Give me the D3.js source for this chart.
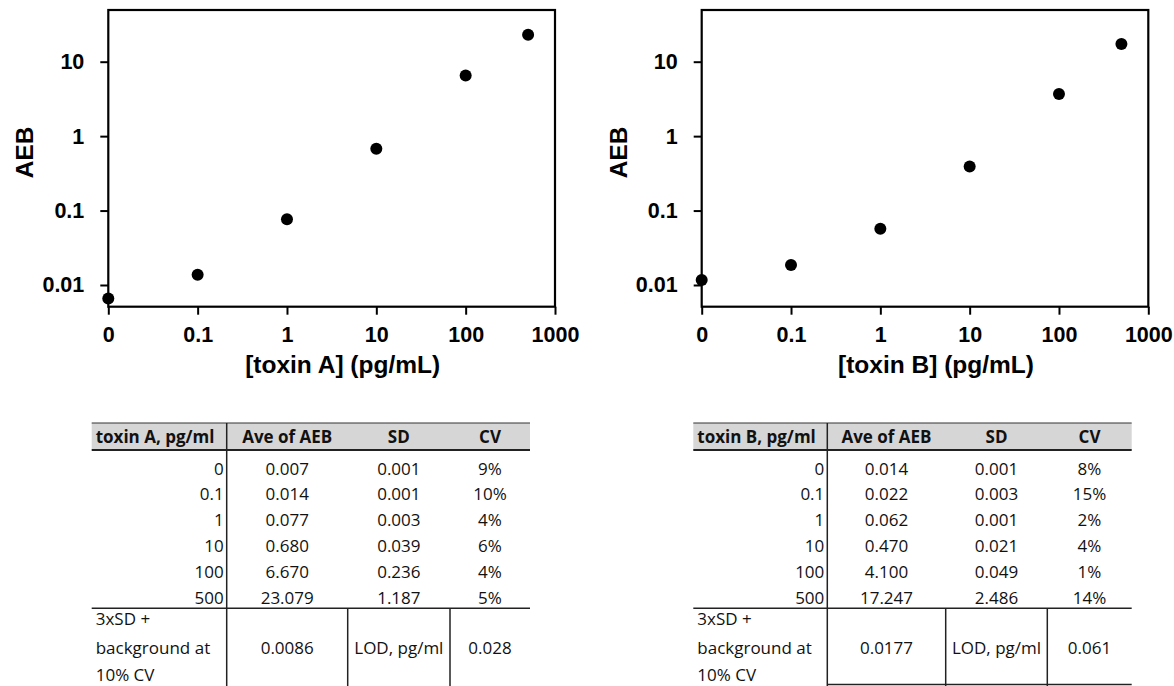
<!DOCTYPE html>
<html>
<head>
<meta charset="utf-8">
<script src="https://cdn.jsdelivr.net/npm/d3@7"></script>
<style>
  html, body { margin: 0; padding: 0; background: #fff; }
  svg { display: block; }
  .tick text { font-family: "Liberation Sans", Arial, sans-serif; font-weight: bold; font-size: 21.5px; fill: #000; }
  .axtitle { font-family: "Liberation Sans", Arial, sans-serif; font-weight: bold; font-size: 24.5px; fill: #000; }
  .tbl { font-family: "Open Sans", "Noto Sans", sans-serif; font-size: 17px; fill: #111; }
  .tblh { font-family: "Open Sans", "Noto Sans", sans-serif; font-size: 17px; font-weight: bold; fill: #111; }
</style>
</head>
<body>
<svg id="chart" width="1174" height="686"></svg>
<script>
// ---------- data ----------
const xTickValues = [0.01, 0.1, 1, 10, 100, 1000];
const xTickLabels = ["0", "0.1", "1", "10", "100", "1000"];
const yTickValues = [0.01, 0.1, 1, 10];
const yTickLabels = ["0.01", "0.1", "1", "10"];

// concentrations (0 is plotted at the "0" tick position, i.e. 0.01)
const concPlot = [0.01, 0.1, 1, 10, 100, 500];
const aebA = [0.0066, 0.0137, 0.0766, 0.676, 6.54, 23.04];
const aebB = [0.0117, 0.0186, 0.0571, 0.390, 3.68, 17.3];

const tableConc = ["0", "0.1", "1", "10", "100", "500"];
const aveA = ["0.007", "0.014", "0.077", "0.680", "6.670", "23.079"];
const sdA  = ["0.001", "0.001", "0.003", "0.039", "0.236", "1.187"];
const cvA  = ["9%", "10%", "4%", "6%", "4%", "5%"];
const aveB = ["0.014", "0.022", "0.062", "0.470", "4.100", "17.247"];
const sdB  = ["0.001", "0.003", "0.001", "0.021", "0.049", "2.486"];
const cvB  = ["8%", "15%", "2%", "4%", "1%", "14%"];
const headerA = ["toxin A, pg/ml", "Ave of AEB", "SD", "CV"];
const headerB = ["toxin B, pg/ml", "Ave of AEB", "SD", "CV"];
const footLabel = ["3xSD +", "background at", "10% CV"];
const footA = ["0.0086", "LOD, pg/ml", "0.028"];
const footB = ["0.0177", "LOD, pg/ml", "0.061"];

const svg = d3.select("#chart");

// ---------- scatter panels ----------
function panel(xLeft, xRight, values, xTitle) {
  const top = 10, bottom = 306.7;
  const x = d3.scaleLog().domain([0.01, 1000]).range([xLeft, xRight]);
  const y = d3.scaleLog().domain([0.00511, 49.5]).range([bottom, top]);
  const g = svg.append("g");

  const xa = g.append("g").attr("transform", `translate(0,${bottom})`)
    .call(d3.axisBottom(x).tickValues(xTickValues)
      .tickFormat((d, i) => xTickLabels[i]).tickSize(8).tickPadding(12));
  const ya = g.append("g").attr("transform", `translate(${xLeft},0)`)
    .call(d3.axisLeft(y).tickValues(yTickValues)
      .tickFormat((d, i) => yTickLabels[i]).tickSize(8).tickPadding(16));
  [xa, ya].forEach(a => {
    a.select(".domain").remove();
    a.selectAll(".tick line").attr("stroke", "#000").attr("stroke-width", 2);
  });

  g.append("rect").attr("x", xLeft).attr("y", top)
    .attr("width", xRight - xLeft).attr("height", bottom - top)
    .attr("fill", "none").attr("stroke", "#000").attr("stroke-width", 2.2);

  g.selectAll("circle").data(values).join("circle")
    .attr("cx", (d, i) => x(concPlot[i]))
    .attr("cy", d => y(d))
    .attr("r", 6).attr("fill", "#000");

  g.append("text").attr("class", "axtitle")
    .attr("x", (xLeft + xRight) / 2 + 11).attr("y", 373)
    .attr("text-anchor", "middle").text(xTitle);
  g.append("text").attr("class", "axtitle")
    .attr("transform", `translate(${xLeft - 75},152.5) rotate(-90)`)
    .attr("text-anchor", "middle").text("AEB");
}
panel(108.3, 555, aebA, "[toxin A] (pg/mL)");
panel(701.7, 1148.3, aebB, "[toxin B] (pg/mL)");

// ---------- tables ----------
function table(cols, header, ave, sd, cv, foot, bottomLine) {
  const g = svg.append("g");
  const top = 423, headBottom = 450, dataBottom = 608.3;
  const rowY = d3.scaleLinear().domain([0, 5]).range([468.5, 597.7]);
  const left = cols[0], right = cols[4];
  const center = i => (cols[i] + cols[i + 1]) / 2;

  g.append("rect").attr("x", left).attr("y", top)
    .attr("width", right - left).attr("height", headBottom - top)
    .attr("fill", "#d6d6d6");
  g.append("line").attr("x1", left).attr("x2", right).attr("y1", top).attr("y2", top)
    .attr("stroke", "#333").attr("stroke-width", 1);
  g.append("line").attr("x1", left).attr("x2", right).attr("y1", headBottom).attr("y2", headBottom)
    .attr("stroke", "#222").attr("stroke-width", 2);
  g.append("line").attr("x1", left).attr("x2", right).attr("y1", dataBottom).attr("y2", dataBottom)
    .attr("stroke", "#222").attr("stroke-width", 1.5);
  g.append("line").attr("x1", cols[1]).attr("x2", cols[1]).attr("y1", top).attr("y2", 690)
    .attr("stroke", "#222").attr("stroke-width", 1.5);
  [2, 3].forEach(i => g.append("line").attr("x1", cols[i]).attr("x2", cols[i])
    .attr("y1", dataBottom).attr("y2", 690).attr("stroke", "#222").attr("stroke-width", 1.5));
  if (bottomLine) {
    g.append("line").attr("x1", cols[1]).attr("x2", right).attr("y1", bottomLine).attr("y2", bottomLine)
      .attr("stroke", "#222").attr("stroke-width", 1.5);
  }

  header.forEach((h, i) => {
    g.append("text").attr("class", "tblh")
      .attr("x", i === 0 ? left + 4 : center(i)).attr("y", 436.5).attr("dy", "0.36em")
      .attr("text-anchor", i === 0 ? "start" : "middle").text(h);
  });
  tableConc.forEach((c, r) => {
    const yy = rowY(r);
    g.append("text").attr("class", "tbl").attr("x", cols[1] - 3).attr("y", yy).attr("dy", "0.36em")
      .attr("text-anchor", "end").text(c);
    [ave[r], sd[r], cv[r]].forEach((v, k) => {
      g.append("text").attr("class", "tbl").attr("x", center(k + 1)).attr("y", yy).attr("dy", "0.36em")
        .attr("text-anchor", "middle").text(v);
    });
  });
  [619, 647.5, 675].forEach((yy, k) => {
    g.append("text").attr("class", "tbl").attr("x", left + 4).attr("y", yy).attr("dy", "0.36em")
      .text(footLabel[k]);
  });
  foot.forEach((v, k) => {
    g.append("text").attr("class", "tbl").attr("x", center(k + 1)).attr("y", 648).attr("dy", "0.36em")
      .attr("text-anchor", "middle").text(v);
  });
}
table([91.7, 226.7, 347.7, 450, 530], headerA, aveA, sdA, cvA, footA, null);
table([693.3, 827.3, 945.7, 1047.3, 1131.7], headerB, aveB, sdB, cvB, footB, 684.5);
</script>
</body>
</html>
